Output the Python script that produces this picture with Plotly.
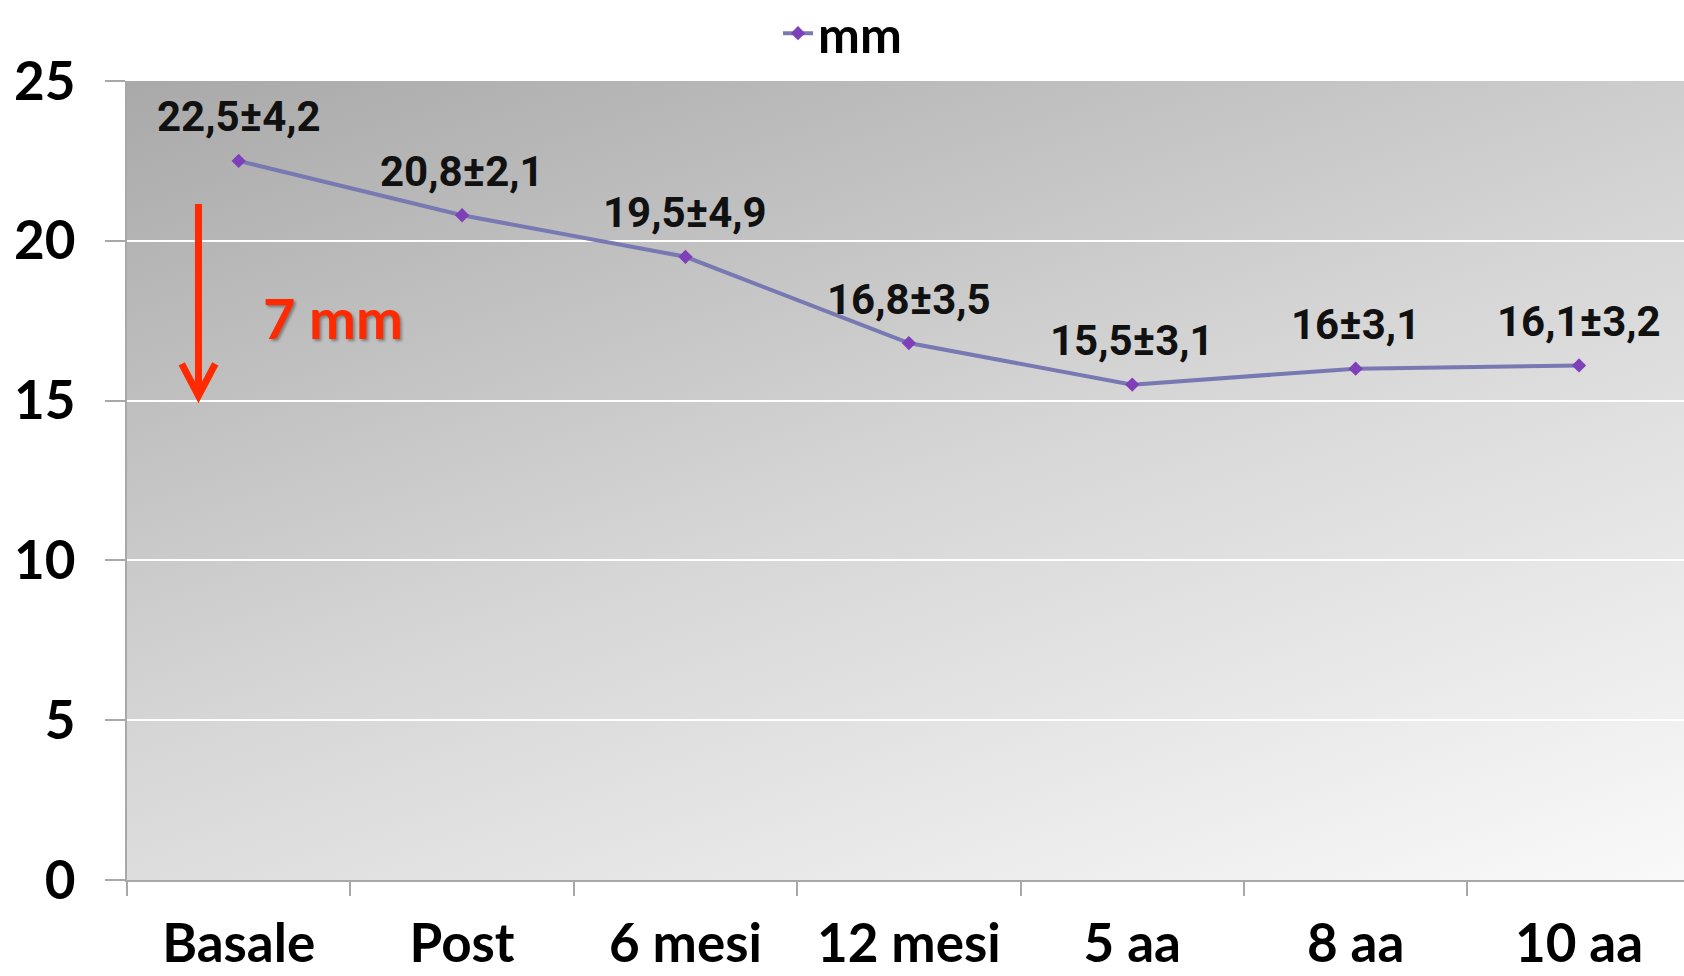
import base64
import plotly.graph_objects as go

# Follow-up time points and measured values (mm)
categories = ["Basale", "Post", "6 mesi", "12 mesi", "5 aa", "8 aa", "10 aa"]
mean_mm = [22.5, 20.8, 19.5, 16.8, 15.5, 16.0, 16.1]
sd_mm = [4.2, 2.1, 4.9, 3.5, 3.1, 3.1, 3.2]
y_ticks = [0, 5, 10, 15, 20, 25]

# Reduction callout
reduction_text = "7 mm"
arrow_top, arrow_tip = 21.15, 15.15
arrow_x = -0.18


def fmt(v):
    s = f"{v:.1f}"
    if s.endswith(".0"):
        s = s[:-2]
    return s.replace(".", ",")


labels = [f"{fmt(m)}±{fmt(s)}" for m, s in zip(mean_mm, sd_mm)]

LINE_COLOR = "#7878b2"
MARKER_COLOR = "#7f3fb8"
RED = "#ff2a00"
AXIS_GRAY = "#a8a8a8"
FONT = "Lato"

# Diagonal grey gradient used as the plot-area background
grad_svg = (
    '<svg xmlns="http://www.w3.org/2000/svg" width="1557" height="799" '
    'viewBox="0 0 1557 799" preserveAspectRatio="none">'
    '<defs><linearGradient id="g" x1="0" y1="0" x2="0.77" y2="1.15">'
    '<stop offset="0" stop-color="#a9a9a9"/>'
    '<stop offset="0.5" stop-color="#d6d6d6"/>'
    '<stop offset="1" stop-color="#f9f9f9"/>'
    '</linearGradient></defs>'
    '<rect x="0" y="0" width="1557" height="799" fill="url(#g)"/></svg>'
)
grad_uri = "data:image/svg+xml;base64," + base64.b64encode(grad_svg.encode()).decode()

fig = go.Figure()
fig.add_trace(
    go.Scatter(
        x=categories,
        y=mean_mm,
        mode="lines+markers",
        name="mm",
        line=dict(color=LINE_COLOR, width=4),
        marker=dict(symbol="diamond", size=11, color=MARKER_COLOR),
    )
)

# Mean ± SD labels above each point
for c, m, t in zip(categories, mean_mm, labels):
    fig.add_annotation(
        x=c, y=m, text=t, showarrow=False, yshift=44, yanchor="middle",
        font=dict(family="Roboto", size=42, color="#111111", weight="bold"),
    )

# Red downward arrow with open head
head_dx, head_dy = 0.075, 1.0
fig.add_shape(
    type="path",
    path=(
        f"M {arrow_x},{arrow_top} L {arrow_x},{arrow_tip} "
        f"M {arrow_x - head_dx},{arrow_tip + head_dy} L {arrow_x},{arrow_tip} "
        f"L {arrow_x + head_dx},{arrow_tip + head_dy}"
    ),
    xref="x", yref="y",
    line=dict(color=RED, width=7),
)
fig.add_annotation(
    x=0, y=17.6, xref="x", yref="y", text=reduction_text, showarrow=False,
    xshift=94,
    font=dict(family=FONT, size=56, color=RED, weight="bold",
              shadow="2px 2px 3px rgba(0,0,0,0.35)"),
)

fig.add_layout_image(
    dict(source=grad_uri, xref="paper", yref="paper", x=0, y=1,
         sizex=1, sizey=1, sizing="stretch", xanchor="left", yanchor="top",
         layer="below")
)

fig.update_layout(
    width=1684,
    height=976,
    margin=dict(l=127, r=0, t=81, b=96, autoexpand=False),
    paper_bgcolor="white",
    plot_bgcolor="rgba(0,0,0,0)",
    showlegend=True,
    legend=dict(
        orientation="h", xref="container", yref="container",
        x=0.462, y=0.966, xanchor="left", yanchor="middle",
        font=dict(family=FONT, size=50, color="black", weight="bold"),
        bgcolor="rgba(0,0,0,0)", itemwidth=30,
    ),
    xaxis=dict(
        type="category",
        range=[-0.5, 6.47],
        showgrid=False,
        showline=True, linecolor=AXIS_GRAY, linewidth=2,
        ticks="outside", tickson="boundaries", ticklen=14,
        tickcolor=AXIS_GRAY, tickwidth=2,
        ticklabelstandoff=16,
        tickfont=dict(family=FONT, size=53, color="black", weight="bold"),
    ),
    yaxis=dict(
        range=[0, 25],
        tickvals=y_ticks,
        showgrid=True, gridcolor="white", gridwidth=2,
        zeroline=False,
        showline=True, linecolor=AXIS_GRAY, linewidth=2,
        ticks="outside", ticklen=20, tickcolor=AXIS_GRAY, tickwidth=2,
        ticklabelstandoff=19,
        tickfont=dict(family=FONT, size=53, color="black", weight="bold"),
    ),
)

fig.write_html("out.html")
